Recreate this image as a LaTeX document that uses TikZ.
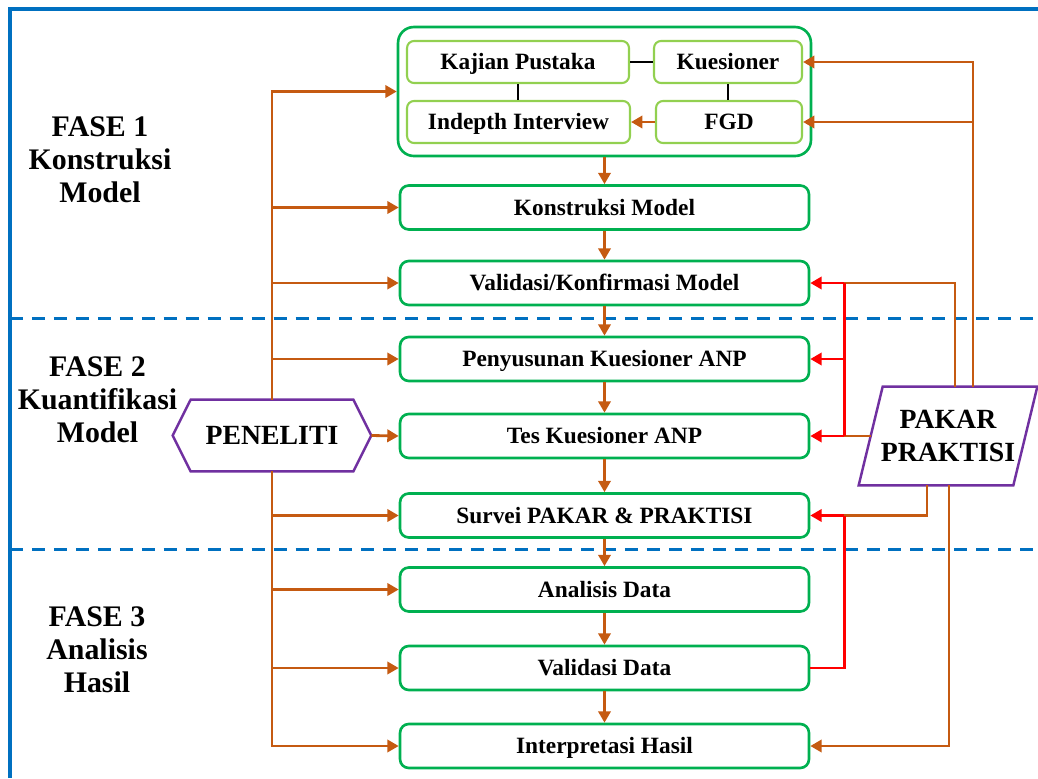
\documentclass[tikz,border=0pt]{standalone}
\usepackage{fontspec}
\setmainfont{Liberation Serif}
\usetikzlibrary{arrows.meta,calc}
\definecolor{gbox}{HTML}{00B050}
\definecolor{lgbox}{HTML}{92D050}
\definecolor{org}{HTML}{C55A11}
\definecolor{blu}{HTML}{0070C0}
\definecolor{pur}{HTML}{7030A0}
\definecolor{rd}{HTML}{FF0000}
\newcommand\bxfont{\bfseries\fontsize{13.3}{15}\selectfont}
\newcommand\fsfont{\bfseries\fontsize{17}{18.7}\selectfont}
\newcommand\bigfont{\bfseries\fontsize{15.8}{18.7}\selectfont}
\begin{document}
\begin{tikzpicture}[x=0.02cm,y=-0.02cm,
 mainbox/.style={draw=gbox, line width=1.5pt, rounded corners=5pt, minimum width=8.18cm, minimum height=0.88cm, inner sep=0pt, font=\bxfont, text height=8.8pt, text depth=0pt},
 subbox/.style={draw=lgbox, line width=1.2pt, rounded corners=4pt, minimum height=0.84cm, inner sep=0pt, font=\bxfont, text height=8.8pt, text depth=0pt},
 oarrow/.style={draw=org, line width=1.6pt, -{Triangle[length=6.5pt,width=7pt]}},
 oline/.style={draw=org, line width=1.6pt},
 rarrow/.style={draw=rd, line width=1.6pt, -{Triangle[length=6.5pt,width=7pt]}},
 rline/.style={draw=rd, line width=1.6pt},
 fase/.style={align=center, font=\fsfont, inner sep=0pt},
 blueline/.style={draw=blu, line width=2pt},
 bluedash/.style={draw=blu, line width=1.7pt, dash pattern=on 7.4pt off 5.1pt}
]
\useasboundingbox (0,0) rectangle (1038,778);

% frame and phase separators
\draw[blueline] (10,778) -- (10,9) -- (1038,9);
\draw[bluedash] (10,318) -- (1038,318);
\draw[bluedash] (10,549) -- (1038,549);

% phase labels
\node[fase] (f1) at (100,160) {FASE 1\\Konstruksi\\Model};
\node[fase] (f2) at (97.5,400) {FASE 2\\Kuantifikasi\\Model};
\node[fase] (f3) at (97,650) {FASE 3\\Analisis\\Hasil};

% top group
\node[draw=gbox, line width=1.5pt, rounded corners=9pt, minimum width=8.26cm, minimum height=2.58cm] (top) at (604.5,91.5) {};
\node[subbox, minimum width=4.44cm] (kaj) at (518,62) {Kajian Pustaka};
\node[subbox, minimum width=2.96cm] (kue) at (728,62) {Kuesioner};
\node[subbox, minimum width=4.46cm] (ind) at (518.5,122) {Indepth Interview};
\node[subbox, minimum width=2.92cm] (fgd) at (729,122) {FGD};

% main boxes
\node[mainbox] (kon) at (604.5,207.5) {Konstruksi Model};
\node[mainbox] (val) at (604.5,283) {Validasi/Konfirmasi Model};
\node[mainbox] (pny) at (604.5,359) {Penyusunan Kuesioner ANP};
\node[mainbox] (tes) at (604.5,436) {Tes Kuesioner ANP};
\node[mainbox] (sur) at (604.5,515.5) {Survei PAKAR \& PRAKTISI};
\node[mainbox] (ana) at (604.5,589.5) {Analisis Data};
\node[mainbox] (vdt) at (604.5,668) {Validasi Data};
\node[mainbox] (int) at (604.5,746) {Interpretasi Hasil};

% PENELITI hexagon
\node[minimum width=3.96cm, minimum height=1.42cm, inner sep=0pt, font=\bigfont] (pen) at (272,435.5) {PENELITI};
\draw[pur, line width=1.4pt] (pen.west) -- ($(pen.north west)+(18,0)$) -- ($(pen.north east)+(-18,0)$) -- (pen.east) -- ($(pen.south east)+(-18,0)$) -- ($(pen.south west)+(18,0)$) -- cycle;

% PAKAR PRAKTISI parallelogram
\node[minimum width=3.56cm, minimum height=1.96cm, inner sep=0pt, align=center, font=\bigfont] (pak) at (948,436) {PAKAR\\PRAKTISI};
\draw[pur, line width=1.4pt] ($(pak.north west)+(24,0)$) -- (pak.north east) -- ($(pak.south east)+(-24,0)$) -- (pak.south west) -- cycle;

% connectors inside top group
\draw[black, line width=1.5pt] (kaj.east) -- (kue.west);
\draw[black, line width=0.6pt] (kaj.south) -- (kaj.south |- ind.north);
\draw[black, line width=0.6pt] (kue.south) -- (kue.south |- fgd.north);
\draw[oarrow] (fgd.west) -- (ind.east);

% vertical flow
\draw[oarrow] (top.south) -- (kon.north);
\draw[oarrow] (kon.south) -- (val.north);
\draw[oarrow] (val.south) -- (pny.north);
\draw[oarrow] (pny.south) -- (tes.north);
\draw[oarrow] (tes.south) -- (sur.north);
\draw[oarrow] (sur.south) -- (ana.north);
\draw[oarrow] (ana.south) -- (vdt.north);
\draw[oarrow] (vdt.south) -- (int.north);

% PENELITI branches
\draw[oarrow] (pen.north) |- (top.west);
\draw[oarrow] (pen.north) |- (kon.west);
\draw[oarrow] (pen.north) |- (val.west);
\draw[oarrow] (pen.north) |- (pny.west);
\draw[oarrow] (pen.east) -- (tes.west);
\draw[oarrow] (pen.south) |- (sur.west);
\draw[oarrow] (pen.south) |- (ana.west);
\draw[oarrow] (pen.south) |- (vdt.west);
\draw[oarrow] (pen.south) |- (int.west);

% PAKAR branches
\coordinate (pt1) at ($(pak.north)+(7,0)$);
\coordinate (pt2) at ($(pak.north)+(25,0)$);
\coordinate (pb1) at ($(pak.south)+(-21,0)$);
\coordinate (pb2) at ($(pak.south)+(1,0)$);
\coordinate (pl) at ($(pak.west)+(12,0)$);
\coordinate (r1) at ($(val.east)+(34,0)$);
\coordinate (r2) at ($(sur.east)+(34,0)$);

\draw[oarrow] (pt2) |- (kue.east);
\draw[oarrow] (pt2) |- (fgd.east);
\draw[oline] (pt1) |- (r1);
\draw[oline] (pl) -- (r1 |- tes.east);
\draw[oline] (pb1) |- (r2);
\draw[oarrow] (pb2) |- (int.east);

\draw[rline] (r1) -- (r1 |- tes.east);
\draw[rarrow] (r1) -- (val.east);
\draw[rarrow] (r1 |- pny.east) -- (pny.east);
\draw[rarrow] (r1 |- tes.east) -- (tes.east);
\draw[rline] (vdt.east) -| (r2);
\draw[rarrow] (r2) -- (sur.east);
\end{tikzpicture}
\end{document}
